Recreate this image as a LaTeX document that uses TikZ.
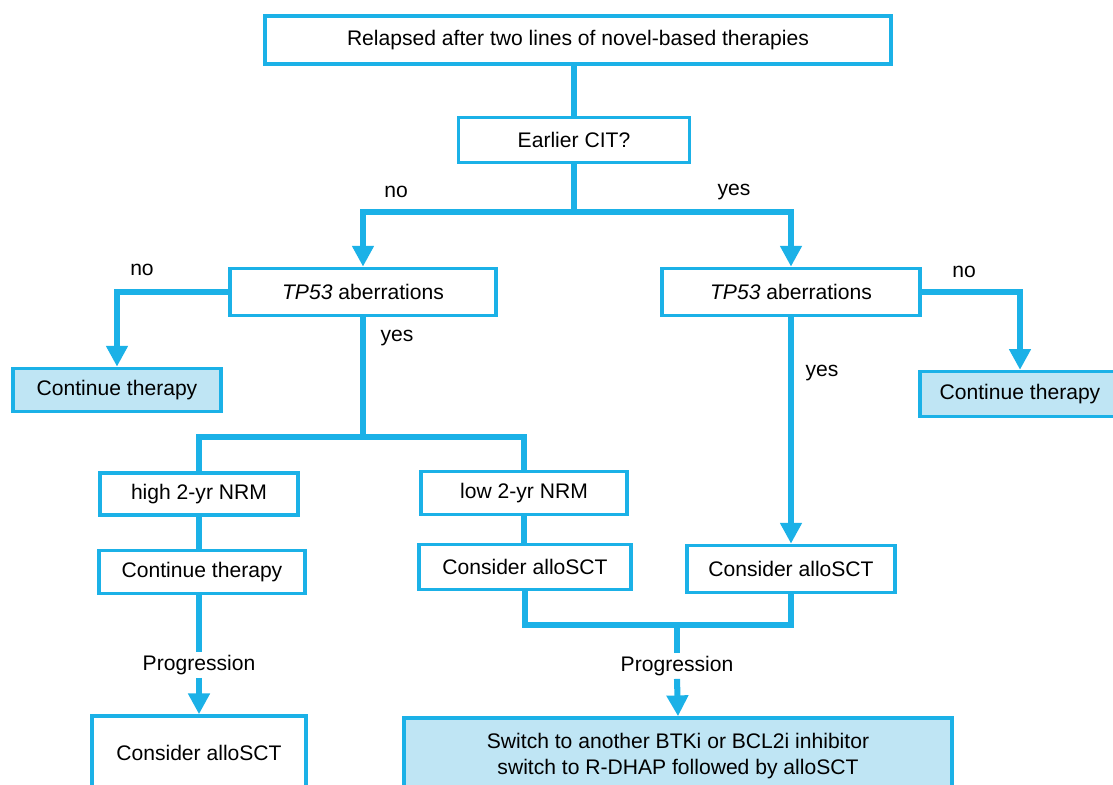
\documentclass[tikz,border=0pt]{standalone}
\usepackage{fontspec}
\setmainfont{Liberation Sans}
\usepackage{tikz}
\usetikzlibrary{arrows.meta,positioning}
\usepackage{xcolor}
\definecolor{flowcyan}{RGB}{27,177,231}
\definecolor{flowfill}{RGB}{191,229,244}

\begin{document}
\begin{tikzpicture}[
  x=0.025cm, y=-0.025cm,
  font=\fontsize{15}{18}\selectfont,
  every node/.style={align=center},
  box/.style={draw=flowcyan, line width=2.5pt, fill=white, inner sep=0pt,
              minimum width=5.2cm, minimum height=1.12cm},
  resultbox/.style={box, fill=flowfill},
  lbl/.style={inner sep=2pt},
  link/.style={draw=flowcyan, line width=4.3pt},
  arr/.style={link, -{Triangle[length=0.52cm,width=0.52cm]}}
]
\useasboundingbox (0,0) rectangle (1113,784);

\node[box, minimum width=15.65cm, minimum height=1.2cm] (start) at (578,40) {Relapsed after two lines of novel-based therapies};
\node[box, minimum width=5.78cm] (cit) at (574,140) {Earlier CIT?};
\node[box, minimum width=6.65cm, minimum height=1.18cm] (tpl) at (363,292) {\textit{TP53} aberrations};
\node[box, minimum width=6.45cm, minimum height=1.18cm] (tpr) at (791,292) {\textit{TP53} aberrations};
\node[resultbox, minimum height=1.08cm] (contl) at (117,390) {Continue therapy};
\node[resultbox, minimum width=5.0cm] (contr) at (1020,394) {Continue therapy};
\node[box, minimum width=4.95cm, minimum height=1.05cm] (highnrm) at (199,494) {high 2-yr NRM};
\node[box, minimum width=5.15cm, minimum height=1.08cm] (lownrm) at (524,493) {low 2-yr NRM};
\node[box, minimum width=5.15cm, minimum height=1.08cm] (conth) at (202,572) {Continue therapy};
\node[box, minimum width=5.3cm] (considl) at (525,567) {Consider alloSCT};
\node[box, minimum height=1.18cm] (considr) at (791,569) {Consider alloSCT};
\node[box, minimum width=5.35cm, minimum height=1.85cm] (considb) at (199,753) {Consider alloSCT};
\node[resultbox, minimum width=13.7cm, minimum height=1.9cm] (switch) at (678,756)
  {Switch to another BTKi or BCL2i inhibitor\\switch to R-DHAP followed by alloSCT};

\node[lbl] (nocit) at (396,192) {no};
\node[lbl] (yescit) at (734,192) {yes};
\node[lbl] (nol) at (142,270) {no};
\node[lbl] (yesl) at (397,338) {yes};
\node[lbl] (nor) at (964,272) {no};
\node[lbl] (yesr) at (822,373) {yes};
\node[lbl] (progl) at (199,665) {Progression};
\node[lbl] (progr) at (677,666) {Progression};

\coordinate (split) at (574,212);
\coordinate (splitl) at (363,437);
\coordinate (join) at (677,625);

\draw[link] (start.south -| cit.north) -- (cit.north);
\draw[link] (cit.south) -- (split);
\draw[arr] (split) -| (tpl.north);
\draw[arr] (split) -| (tpr.north);
\draw[arr] (tpl.west) -| (contl.north);
\draw[arr] (tpr.east) -| (contr.north);
\draw[link] (tpl.south) -- (splitl);
\draw[link] (splitl) -| (highnrm.north);
\draw[link] (splitl) -| (lownrm.north);
\draw[arr] (tpr.south) -- (considr.north);
\draw[link] (highnrm.south) -- (highnrm.south |- conth.north);
\draw[link] (lownrm.south) -- (lownrm.south |- considl.north);
\draw[link] (progl.north |- conth.south) -- (progl.north);
\draw[arr] (progl.south) -- (considb.north);
\draw[link] (considl.south) |- (join) -| (considr.south);
\draw[link] (join) -- (progr.north);
\draw[arr] (progr.south) -- (switch.north);
\end{tikzpicture}
\end{document}
